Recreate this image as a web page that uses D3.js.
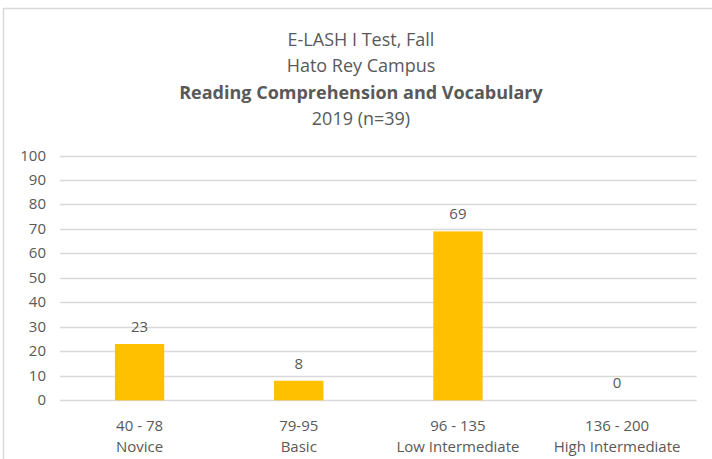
<!DOCTYPE html>
<html lang="en">
  <head>
    <meta charset="utf-8">
    <title>E-LASH I Test, Fall</title>
    <style>
      body { margin: 0; background: #ffffff; }
      .lbl { font-family: "Open Sans", Lato, sans-serif; fill: #595959; }
    </style>
    <script src="https://cdn.jsdelivr.net/npm/d3@7"></script>
  </head>
  <body>
    <div id="container"></div>
    <script type="text/javascript">
      // ---------------- DATA ----------------
      var ranges = ["40 - 78", "79-95", "96 - 135", "136 - 200"];
      var levels = ["Novice", "Basic", "Low Intermediate", "High Intermediate"];
      var percents = [23, 8, 69, 0];
      var yTicks = [0, 10, 20, 30, 40, 50, 60, 70, 80, 90, 100];
      var titleLines = ["E-LASH I Test, Fall", "Hato Rey Campus", "Reading Comprehension and Vocabulary", "2019 (n=39)"];

      var width = 712, height = 459;
      var margin = {top: 155.5, right: 15.3, bottom: 58.7, left: 60};

      var svg = d3.select("#container").append("svg")
                  .attr("width", width)
                  .attr("height", height);

      // chart border (runs off right/bottom like the screenshot)
      svg.append("rect")
         .attr("x", 3.5).attr("y", 8.5)
         .attr("width", 730).attr("height", 470)
         .attr("fill", "#ffffff")
         .attr("stroke", "#d9d9d9")
         .attr("stroke-width", 1.5);

      // ---------------- TITLE ----------------
      var titleY = [46, 72, 99, 125];
      titleLines.forEach(function(t, i) {
        svg.append("text")
           .attr("class", "lbl")
           .attr("x", 361)
           .attr("y", titleY[i])
           .attr("text-anchor", "middle")
           .attr("font-size", "18px")
           .attr("font-weight", i == 2 ? "bold" : "normal")
           .attr("fill", i == 2 ? "#404040" : "#595959")
           .text(t);
      });

      // ---------------- SCALES ----------------
      var x = d3.scaleBand()
                .domain(levels)
                .range([margin.left, width - margin.right])
                .padding(0);

      var y = d3.scaleLinear()
                .domain([0, 100])
                .range([height - margin.bottom, margin.top]);

      // gridlines
      svg.append("g").selectAll("line")
         .data(yTicks).enter().append("line")
         .attr("x1", margin.left)
         .attr("x2", width - margin.right)
         .attr("y1", function(d) { return Math.round(y(d)) + 0.5; })
         .attr("y2", function(d) { return Math.round(y(d)) + 0.5; })
         .attr("stroke", "#d9d9d9")
         .attr("stroke-width", 1.5);

      // y tick labels
      svg.append("g").selectAll("text")
         .data(yTicks).enter().append("text")
         .attr("class", "lbl")
         .attr("x", 46)
         .attr("y", function(d) { return y(d) + 5; })
         .attr("text-anchor", "end")
         .attr("font-size", "15px")
         .text(function(d) { return d; });

      // ---------------- BARS ----------------
      var barW = x.bandwidth() * 0.31;

      svg.append("g").selectAll("rect")
         .data(percents).enter().append("rect")
         .attr("x", function(d, i) { return x(levels[i]) + (x.bandwidth() - barW) / 2; })
         .attr("y", function(d) { return y(d); })
         .attr("width", barW)
         .attr("height", function(d) { return y(0) - y(d); })
         .attr("fill", "#ffc000");

      // value labels
      svg.append("g").selectAll("text")
         .data(percents).enter().append("text")
         .attr("class", "lbl")
         .attr("x", function(d, i) { return x(levels[i]) + x.bandwidth() / 2; })
         .attr("y", function(d) { return y(d) - 12; })
         .attr("text-anchor", "middle")
         .attr("font-size", "15px")
         .attr("fill", "#404040")
         .text(function(d) { return d; });

      // category labels, two lines each
      var cats = svg.append("g").selectAll("text")
         .data(levels).enter().append("text")
         .attr("class", "lbl")
         .attr("x", function(d) { return x(d) + x.bandwidth() / 2; })
         .attr("text-anchor", "middle")
         .attr("font-size", "15px");

      cats.append("tspan")
          .attr("x", function(d) { return x(d) + x.bandwidth() / 2; })
          .attr("y", 431)
          .text(function(d, i) { return ranges[i]; });

      cats.append("tspan")
          .attr("x", function(d) { return x(d) + x.bandwidth() / 2; })
          .attr("y", 452)
          .text(function(d) { return d; });
    </script>
  </body>
</html>
